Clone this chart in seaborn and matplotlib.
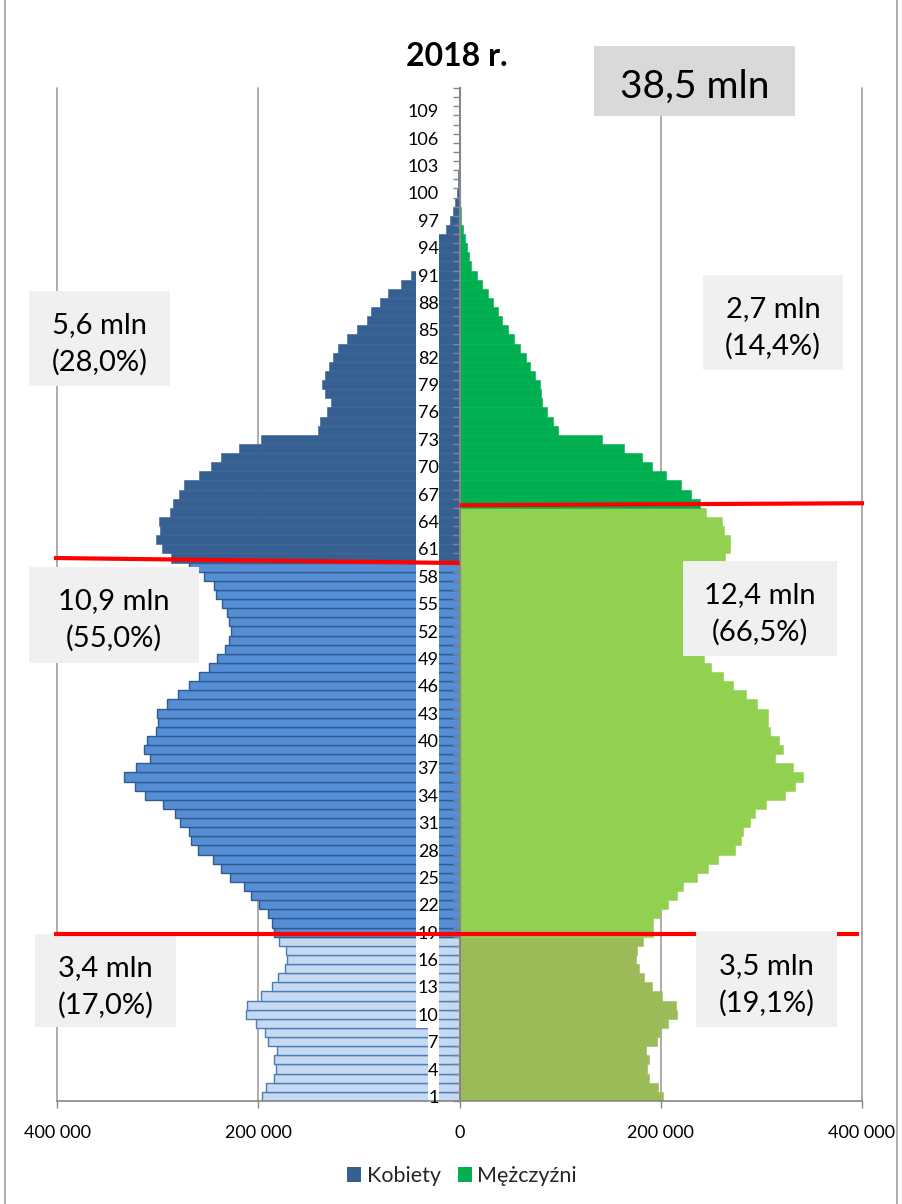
import numpy as np
import pandas as pd
import matplotlib
matplotlib.use("Agg")
import matplotlib.pyplot as plt
from matplotlib.patches import Rectangle, Patch
from matplotlib.lines import Line2D
import seaborn as sns

# ages 1..111 (bottom to top)
ages = list(range(1, 112))

# population in thousands
women_k = [196, 192, 184, 182, 184, 181, 190, 193, 202, 212,
           211, 197, 186, 180, 173, 171, 172, 179, 184, 186,
           190, 199, 207, 214, 228, 237, 245, 260, 267, 269,
           278, 283, 295, 313, 322, 333, 321, 308, 314, 311,
           302, 300, 301, 291, 280, 269, 259, 249, 241, 233,
           229, 227, 229, 231, 236, 242, 244, 254, 269, 287,
           296, 302, 298, 299, 288, 285, 279, 274, 259, 247,
           237, 219, 197, 141, 139, 132, 128, 134, 137, 134,
           130, 126, 121, 112, 102, 92, 88, 79, 71, 58,
           48, 40, 33, 27, 21, 13.3, 9.3, 6.0, 4.0, 2.7,
           1.7, 1.0, 0.6, 0.4, 0.3, 0.2, 0.1, 0.1, 0.05, 0.05, 0.05]
men_k = [202, 197, 188, 186, 188, 185, 196, 199, 207, 216,
         215, 201, 191, 183, 178, 175, 176, 182, 192, 192,
         199, 207, 216, 222, 236, 247, 257, 274, 280, 282,
         289, 294, 305, 323, 333, 341, 331, 314, 321, 318,
         309, 307, 307, 296, 285, 272, 262, 250, 243, 238,
         234, 232, 232, 234, 237, 241, 246, 252, 258, 264,
         269, 269, 263, 261, 245, 239, 230, 220, 205, 191,
         181, 163, 142, 98, 93, 87, 82, 81, 80, 75,
         70, 66, 60, 54, 48, 42, 38, 33, 28, 22,
         17, 11.5, 9.3, 7.3, 5.0, 3.3, 1.7, 1.0, 0.6, 0.4,
         0.25, 0.15, 0.1, 0.05, 0.05, 0.05, 0.05, 0.05, 0.05, 0.05, 0.05]

# last age of the "young" and "working" groups on each side
women_breaks = (18, 59)
men_breaks = (18, 65)

x_ticks = [-400000, -200000, 0, 200000, 400000]
x_tick_labels = ["400 000", "200 000", "0", "200 000", "400 000"]
y_tick_ages = ages[::3]

title = "2018 r."
total_label = "38,5 mln"
women_notes = [("5,6 mln", "(28,0%)"), ("10,9 mln", "(55,0%)"), ("3,4 mln", "(17,0%)")]
men_notes = [("2,7 mln", "(14,4%)"), ("12,4 mln", "(66,5%)"), ("3,5 mln", "(19,1%)")]
legend_labels = ["Kobiety", "Mężczyźni"]

W, H = 902, 1204

sns.set_theme(style="white")
plt.rcParams["font.family"] = ["Lato", "DejaVu Sans"]

df = pd.DataFrame({
    "age": ages,
    "women": [-v * 1000 for v in women_k],
    "men": [v * 1000 for v in men_k],
})

fig = plt.figure(figsize=(W / 100, H / 100), dpi=100)
ax = fig.add_axes([57 / W, 1 - 1101 / H, 805 / W, 1013 / H])

segments = [
    ("women", df.age <= women_breaks[0], "#C6D9F1", "#4A7EBB", 1.0),
    ("women", (df.age > women_breaks[0]) & (df.age <= women_breaks[1]), "#558ED5", "#2F5B8F", 1.0),
    ("women", df.age > women_breaks[1], "#376092", "#376092", 0.4),
    ("men", df.age <= men_breaks[0], "#9BBB59", "#9BBB59", 0.4),
    ("men", (df.age > men_breaks[0]) & (df.age <= men_breaks[1]), "#92D050", "#92D050", 0.4),
    ("men", df.age > men_breaks[1], "#00B050", "#00B050", 0.4),
]
for col, mask, fc, ec, lw in segments:
    sns.barplot(data=df[mask], x=col, y="age", orient="y", native_scale=True,
                width=1, color=fc, saturation=1, edgecolor=ec, linewidth=lw,
                errorbar=None, ax=ax)

ax.set_xlim(-400000, 400000)
ax.set_ylim(ages[0] - 0.5, ages[-1] + 0.5)
ax.set_xlabel("")
ax.set_ylabel("")

# gridlines behind the bars
for t in x_ticks:
    if t != 0:
        ax.axvline(t, color="#A6A6A6", lw=1.3, zorder=0.5, clip_on=False)

# white strip behind the age labels
ax.add_patch(Rectangle((-43000, 8.5), 23000, ages[-1] - 8,
                       facecolor="white", edgecolor="none", zorder=1.5))
ax.add_patch(Rectangle((-31000, ages[0] - 0.5), 11000, 8,
                       facecolor="white", edgecolor="none", zorder=1.5))

# axes styling
for s in ["top", "right"]:
    ax.spines[s].set_visible(False)
ax.spines["left"].set_position(("data", 0))
ax.spines["left"].set_color("#868686")
ax.spines["left"].set_linewidth(1.5)
ax.spines["bottom"].set_color("#868686")
ax.spines["bottom"].set_linewidth(1.2)

ax.set_yticks(y_tick_ages)
ax.set_yticklabels([str(a) for a in y_tick_ages])
ax.set_yticks([a - 0.5 for a in ages] + [ages[-1] + 0.5], minor=True)
ax.tick_params(axis="y", which="major", left=True, length=0, pad=15,
               labelsize=13, labelcolor="black")
ax.tick_params(axis="y", which="minor", left=True, length=5, width=1,
               color="#868686", direction="out")
ax.set_xticks(x_ticks)
ax.set_xticklabels(x_tick_labels)
ax.tick_params(axis="x", which="major", bottom=True, length=5, width=1,
               color="#868686", direction="out", pad=12, labelsize=13,
               labelcolor="black")
ax.yaxis.set_zorder(3)
ax.xaxis.set_zorder(3)
ax.spines["left"].set_zorder(3)

# red dividing lines between the age groups
wy = women_breaks[1] + 0.5
my = men_breaks[1] + 0.5
yy = women_breaks[0] + 0.5
ax.plot([-403000, 0], [wy + 0.5, wy - 0.05], color="#FF0000", lw=3, zorder=4,
        clip_on=False, solid_capstyle="butt")
ax.plot([0, 402000], [my + 0.28, my + 0.5], color="#FF0000", lw=3, zorder=4,
        clip_on=False, solid_capstyle="butt")
ax.plot([-403000, 397000], [yy + 0.35, yy + 0.35], color="#FF0000", lw=3,
        zorder=4, clip_on=False, solid_capstyle="butt")


def note_box(x0, y0, x1, y1, lines, size, face, z, base, step=38):
    ax.add_patch(Rectangle((x0 / W, 1 - y1 / H), (x1 - x0) / W, (y1 - y0) / H,
                           transform=fig.transFigure, facecolor=face,
                           edgecolor="none", zorder=z, clip_on=False))
    for i, line in enumerate(lines):
        ax.text((x0 + x1) / 2 / W, 1 - (y0 + base + i * step) / H, line,
                transform=fig.transFigure, ha="center", va="baseline",
                fontsize=size, color="black", zorder=z + 0.1, clip_on=False)


left_boxes = [(29, 291, 170, 386), (29, 567, 199, 663), (35, 934, 176, 1027)]
right_boxes = [(703, 275, 843, 370), (683, 561, 837, 656), (696, 932, 837, 1027)]
for (x0, y0, x1, y1), lines in zip(left_boxes, women_notes):
    note_box(x0, y0, x1, y1, lines, 21, "#F0F0F0", 3, 42)
for (x0, y0, x1, y1), lines in zip(right_boxes, men_notes):
    note_box(x0, y0, x1, y1, lines, 21, "#F0F0F0", 5, 42)
note_box(594, 46, 795, 116, [total_label], 28, "#D9D9D9", 5, 52)

fig.text(457 / W, 1 - 66.5 / H, title, ha="center", va="baseline",
         fontsize=23, fontweight="bold", color="black")

handles = [Patch(facecolor="#376092", edgecolor="none"),
           Patch(facecolor="#00B050", edgecolor="none")]
fig.legend(handles, legend_labels, loc="center", bbox_to_anchor=(462 / W, 1 - 1176 / H),
           ncol=2, frameon=False, fontsize=15.5, handlelength=0.65, handleheight=0.65,
           handletextpad=0.25, columnspacing=0.8)

# outer chart border (left and right edges)
for bx in (5, 897):
    fig.add_artist(Line2D([bx / W, bx / W], [0, 1], transform=fig.transFigure,
                          color="#A0A0A0", lw=1.2))

fig.savefig("out.png", dpi=100)
plt.close(fig)
